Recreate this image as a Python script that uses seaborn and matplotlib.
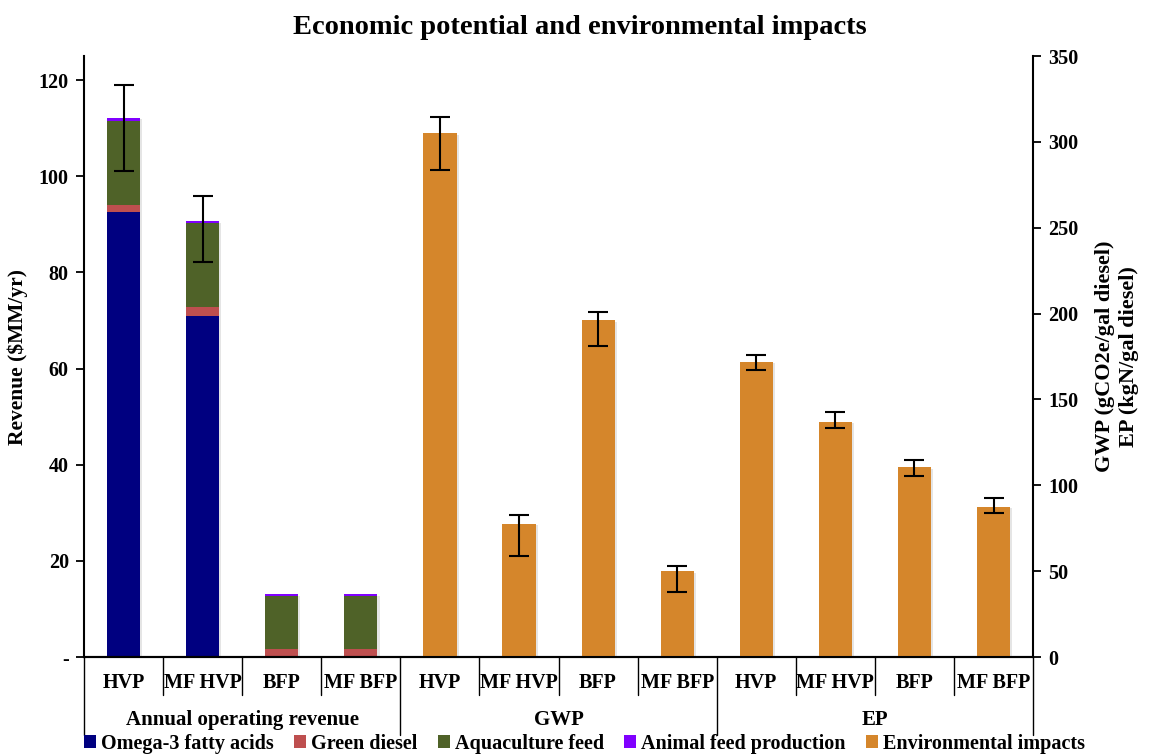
import matplotlib
matplotlib.use("Agg")
import matplotlib.pyplot as plt
import matplotlib.patheffects as pe
from matplotlib.patches import Patch
import numpy as np
import pandas as pd
import seaborn as sns

# ---- data ----
scenarios = ["HVP", "MF HVP", "BFP", "MF BFP"]
groups = ["Annual operating revenue", "GWP", "EP"]

omega3 = [92.5, 71.0, 0.0, 0.0]
green_diesel = [1.5, 1.8, 1.6, 1.6]
aquaculture = [17.4, 17.4, 11.0, 11.0]
animal_feed = [0.8, 0.4, 0.4, 0.4]
revenue_err_low = [101.0, 82.1, None, None]
revenue_err_high = [118.9, 95.8, None, None]

gwp = [305.0, 77.5, 196.0, 50.0]
gwp_err_low = [283.6, 58.8, 181.3, 38.0]
gwp_err_high = [314.3, 82.7, 201.0, 52.8]

ep = [172.0, 137.0, 110.5, 87.4]
ep_err_low = [167.3, 133.4, 105.6, 83.9]
ep_err_high = [176.0, 142.5, 114.7, 92.6]

colors = {
    "Omega-3 fatty acids": "#000080",
    "Green diesel": "#BE4F4F",
    "Aquaculture feed": "#4F6228",
    "Animal feed production": "#8000FF",
    "Environmental impacts": "#D5862B",
}

# ---- style ----
sns.set_theme(style="white")
plt.rcParams["font.family"] = ["Liberation Serif", "DejaVu Serif"]
plt.rcParams["font.weight"] = "bold"
plt.rcParams["axes.labelweight"] = "bold"
for key in ("text.color", "axes.labelcolor", "xtick.color", "ytick.color", "axes.edgecolor"):
    plt.rcParams[key] = "black"

keys = [f"{g}|{s}" for g in groups for s in scenarios]
pos = {k: i for i, k in enumerate(keys)}

fig = plt.figure(figsize=(11.53, 7.55), dpi=100)
ax = fig.add_axes([0.0729, 0.1298, 0.8231, 0.7960])
ax2 = ax.twinx()

shadow = [pe.SimplePatchShadow(offset=(1.5, -1.0), shadow_rgbFace="#aaaaaa", alpha=0.3), pe.Normal()]

# stacked revenue bars, drawn from the full stack downwards
rev_keys = [f"{groups[0]}|{s}" for s in scenarios]
layers = [
    ("Animal feed production", np.array(omega3) + np.array(green_diesel) + np.array(aquaculture) + np.array(animal_feed)),
    ("Aquaculture feed", np.array(omega3) + np.array(green_diesel) + np.array(aquaculture)),
    ("Green diesel", np.array(omega3) + np.array(green_diesel)),
    ("Omega-3 fatty acids", np.array(omega3)),
]
for i, (name, vals) in enumerate(layers):
    df = pd.DataFrame({"key": rev_keys, "value": vals})
    n_before = len(ax.patches)
    sns.barplot(data=df, x="key", y="value", order=keys, color=colors[name],
                saturation=1, width=0.42, errorbar=None, ax=ax, linewidth=0)
    if i == 0:
        for p in ax.patches[n_before:]:
            p.set_path_effects(shadow)

for k, lo, hi, tot in zip(rev_keys, revenue_err_low, revenue_err_high, layers[0][1]):
    if lo is None:
        continue
    ax.errorbar(pos[k], tot, yerr=[[tot - lo], [hi - tot]], fmt="none",
                ecolor="black", elinewidth=1.5, capsize=7, capthick=1.5, zorder=5)

# environmental impact bars on the secondary axis
env_keys = [f"{g}|{s}" for g in groups[1:] for s in scenarios]
env_vals = gwp + ep
env_lo = gwp_err_low + ep_err_low
env_hi = gwp_err_high + ep_err_high
df_env = pd.DataFrame({"key": env_keys, "value": env_vals})
sns.barplot(data=df_env, x="key", y="value", order=keys, color=colors["Environmental impacts"],
            saturation=1, width=0.42, errorbar=None, ax=ax2, linewidth=0)
for p in ax2.patches:
    p.set_path_effects(shadow)
for k, v, lo, hi in zip(env_keys, env_vals, env_lo, env_hi):
    ax2.errorbar(pos[k], v, yerr=[[v - lo], [hi - v]], fmt="none",
                 ecolor="black", elinewidth=1.5, capsize=7, capthick=1.5, zorder=5)

# ---- axes ----
n = len(keys)
ax.set_xlim(-0.5, n - 0.5)
ax.set_ylim(0, 125)
ax2.set_ylim(0, 350)
ax.set_yticks(range(0, 121, 20))
ax.set_yticklabels(["-"] + [str(v) for v in range(20, 121, 20)])
ax2.set_yticks(range(0, 351, 50))
ax.set_xticks([])
ax2.set_xticks([])
ax.set_xlabel("")
ax2.set_xlabel("")

for a in (ax, ax2):
    a.spines["top"].set_visible(False)
    for s in a.spines.values():
        s.set_color("black")
        s.set_linewidth(1.5)
ax.spines["right"].set_visible(False)
ax2.spines["left"].set_visible(False)
ax.tick_params(axis="y", direction="out", length=6, width=1.3, left=True, labelsize=14.5, pad=5)
ax2.tick_params(axis="y", direction="out", length=6, width=1.3, right=True, labelsize=14.5, pad=5)
for lab in ax.get_yticklabels() + ax2.get_yticklabels():
    lab.set_fontweight("bold")

ax.set_ylabel("Revenue (\\$MM/yr)", fontsize=15.5, fontweight="bold", labelpad=8)
ax2.set_ylabel("GWP (gCO2e/gal diesel)\nEP (kgN/gal diesel)", fontsize=16, fontweight="bold",
               labelpad=12, linespacing=1.25)

# category table under the x axis
tr = ax.get_xaxis_transform()
for i in range(n + 1):
    bottom = -0.13 if i % 4 == 0 else -0.063
    ax.plot([i - 0.5, i - 0.5], [0, bottom], transform=tr, color="black", lw=1.0, clip_on=False)
for i, k in enumerate(keys):
    ax.text(i, -0.043, k.split("|")[1], transform=tr, ha="center", va="center",
            fontsize=14.5, fontweight="bold")
for gi, g in enumerate(groups):
    ax.text(gi * 4 + 1.5, -0.105, g, transform=tr, ha="center", va="center",
            fontsize=15, fontweight="bold")

fig.text(0.503, 0.963, "Economic potential and environmental impacts", ha="center", va="center",
         fontsize=20.5, fontweight="bold")

handles = [Patch(facecolor=c, edgecolor="none", label=l) for l, c in colors.items()]
fig.legend(handles=handles, loc="center", bbox_to_anchor=(0.507, 0.0146), ncol=5,
           frameon=False, handlelength=0.6, handleheight=0.6,
           handletextpad=0.25, columnspacing=1.0, borderpad=0.1,
           prop={"weight": "bold", "size": 14.5})

fig.savefig("out.png", dpi=100)
